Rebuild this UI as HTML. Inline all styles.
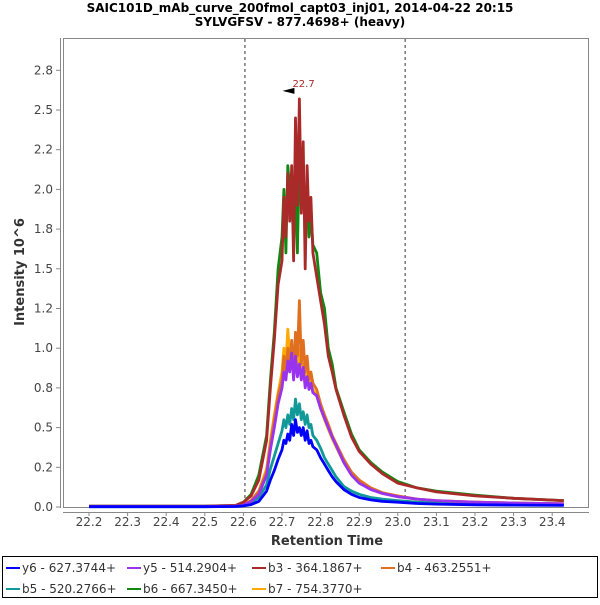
<!DOCTYPE html>
<html><head><meta charset="utf-8"><style>
body{margin:0;background:#fff;font-family:"Liberation Sans","DejaVu Sans",sans-serif;}
svg text{font-family:"DejaVu Sans","Liberation Sans",sans-serif;}
</style></head><body>
<svg id="chart" width="600" height="600" xmlns="http://www.w3.org/2000/svg">
<rect width="600" height="600" fill="#fff"/>
<text x="300" y="12" text-anchor="middle" font-size="12" font-weight="bold">SAIC101D_mAb_curve_200fmol_capt03_inj01, 2014-04-22 20:15</text>
<text x="300" y="26" text-anchor="middle" font-size="12" font-weight="bold">SYLVGFSV - 877.4698+ (heavy)</text>
<rect x="63.5" y="38.5" width="525" height="469" fill="#fff" stroke="#888"/>
<line x1="60.5" y1="38" x2="60.5" y2="508" stroke="#888"/>
<line x1="63" y1="512.5" x2="589" y2="512.5" stroke="#888"/>
<g id="yticks"></g><g id="xticks"></g>
<g id="markers"></g>
<g id="series"></g>
<g id="annot"></g>
<text x="327" y="545" text-anchor="middle" font-size="13" font-weight="bold" fill="#333">Retention Time</text>
<text transform="translate(24,272) rotate(-90)" text-anchor="middle" font-size="13" font-weight="bold" fill="#333">Intensity 10^6</text>
<rect x="2.5" y="556.5" width="595" height="41" fill="#fff" stroke="#000"/>
<g id="legend"></g>
</svg>
<script>
const times=[22.20,22.50,22.58,22.60,22.62,22.64,22.66,22.67,22.68,22.69,22.70,22.705,22.71,22.715,22.72,22.725,22.73,22.735,22.74,22.745,22.75,22.755,22.76,22.765,22.77,22.775,22.78,22.79,22.80,22.81,22.82,22.83,22.84,22.86,22.88,22.90,22.93,22.96,23.00,23.05,23.10,23.20,23.30,23.43];
const y6=[0.002,0.002,0.003,0.007,0.015,0.035,0.1,0.17,0.23,0.3,0.36,0.42,0.4,0.46,0.42,0.52,0.45,0.55,0.47,0.5,0.45,0.5,0.42,0.48,0.4,0.42,0.38,0.36,0.31,0.27,0.23,0.19,0.16,0.11,0.08,0.06,0.045,0.035,0.03,0.022,0.018,0.014,0.012,0.01];
const y5=[0.003,0.003,0.005,0.012,0.035,0.08,0.2,0.36,0.5,0.65,0.75,0.85,0.8,0.92,0.85,0.97,0.8,0.95,0.82,0.9,0.8,0.88,0.75,0.82,0.74,0.78,0.72,0.7,0.62,0.56,0.5,0.44,0.39,0.28,0.2,0.15,0.11,0.085,0.065,0.05,0.04,0.03,0.025,0.02];
const b3=[0.005,0.005,0.01,0.03,0.07,0.17,0.42,0.75,1.05,1.4,1.55,1.95,1.7,2.1,1.8,2.15,1.55,2.45,1.9,2.57,1.85,2.3,1.5,2.15,1.8,1.95,1.6,1.45,1.3,1.15,0.95,0.85,0.74,0.58,0.44,0.35,0.27,0.21,0.15,0.12,0.095,0.07,0.055,0.04];
const b4=[0.003,0.003,0.005,0.015,0.04,0.1,0.22,0.4,0.55,0.7,0.8,0.95,0.85,1.0,0.9,1.05,0.85,1.1,0.95,1.3,0.9,1.05,0.85,0.95,0.8,0.85,0.78,0.74,0.65,0.58,0.52,0.45,0.4,0.3,0.22,0.17,0.12,0.09,0.07,0.05,0.04,0.03,0.025,0.02];
const b5=[0.002,0.002,0.004,0.01,0.025,0.06,0.14,0.24,0.32,0.4,0.48,0.55,0.5,0.58,0.52,0.62,0.55,0.68,0.58,0.65,0.55,0.6,0.52,0.58,0.5,0.52,0.45,0.42,0.37,0.31,0.27,0.23,0.19,0.13,0.1,0.08,0.06,0.05,0.04,0.03,0.025,0.02,0.018,0.015];
const b6=[0.005,0.005,0.01,0.03,0.08,0.2,0.45,0.8,1.1,1.5,1.7,2.0,1.6,2.15,2.0,1.9,1.7,2.0,1.6,2.25,1.9,2.1,1.8,1.9,1.7,1.85,1.65,1.6,1.35,1.25,1.0,0.9,0.75,0.6,0.46,0.36,0.28,0.22,0.16,0.12,0.1,0.075,0.055,0.04];
const b7=[0.003,0.003,0.005,0.015,0.04,0.1,0.24,0.42,0.58,0.72,0.85,1.0,0.9,1.12,0.95,1.0,0.88,0.98,0.85,1.0,0.85,0.9,0.8,0.85,0.77,0.8,0.74,0.7,0.62,0.55,0.49,0.43,0.38,0.28,0.21,0.16,0.12,0.09,0.065,0.05,0.04,0.03,0.025,0.02];
const seriesNames=["y6 - 627.3744+","y5 - 514.2904+","b3 - 364.1867+","b4 - 463.2551+","b5 - 520.2766+","b6 - 667.3450+","b7 - 754.3770+"];
const seriesColors=["#0000ff","#9933ee","#aa2a2a","#e07020","#119999","#118811","#ffaa00"];
const yTickValues=[0,0.25,0.5,0.75,1.0,1.25,1.5,1.75,2.0,2.25,2.5,2.75];
const yTickLabels=["0.0","0.2","0.5","0.8","1.0","1.2","1.5","1.8","2.0","2.2","2.5","2.8"];
const xTickValues=[22.2,22.3,22.4,22.5,22.6,22.7,22.8,22.9,23.0,23.1,23.2,23.3,23.4];
const markerTimes=[22.604,23.019];
const peakTime=22.74, peakValue=2.57, peakLabel="22.7";

const NS="http://www.w3.org/2000/svg";
const xs=t=>89+(t-22.2)*386;
const ys=v=>507-v*158.8;
function mk(tag,attrs,parent){const e=document.createElementNS(NS,tag);for(const k in attrs)e.setAttribute(k,attrs[k]);parent.appendChild(e);return e;}

const yt=document.getElementById('yticks');
yTickValues.forEach((v,i)=>{
  const l=mk('line',{x1:56,x2:60,y1:ys(v),y2:ys(v),stroke:'#888'},yt);
  
  
  const t=mk('text',{x:53,y:ys(v)+4,'text-anchor':'end','font-size':12,fill:'#444'},yt);
  
  
  t.textContent=yTickLabels[i];
});
const xt=document.getElementById('xticks');
xTickValues.forEach(v=>{
  const l=mk('line',{x1:xs(v),x2:xs(v),y1:512,y2:516,stroke:'#888'},xt);
  
  
  const t=mk('text',{x:xs(v),y:526,'text-anchor':'middle','font-size':12,fill:'#444'},xt);
  
  
  t.textContent=v.toFixed(1);
});
const mg=document.getElementById('markers');
markerTimes.forEach(m=>{
  const l=mk('line',{x1:xs(m),x2:xs(m),y1:39,y2:507,stroke:'#333','stroke-dasharray':'3,3'},mg);
  
  
});
const data=[y6,y5,b3,b4,b5,b6,b7];
const sg=document.getElementById('series');
[6,5,4,3,2,1,0].forEach(i=>{
  const d=data[i].map((v,j)=>(j?'L':'M')+xs(times[j]).toFixed(1)+','+ys(v).toFixed(1)).join('');
  const p=mk('path',{d:d,fill:'none',stroke:seriesColors[i],'stroke-width':2.8,'stroke-linejoin':'round'},sg);
  
  
});
const ag=document.getElementById('annot');
const px=xs(peakTime), py=ys(peakValue);
const ar=mk('polygon',{points:`${px-15},${py-8} ${px-3},${py-11} ${px-3},${py-5}`,fill:'#000'},ag);


const at=mk('text',{x:px-5,y:py-12,'font-size':10,fill:'#aa2a2a'},ag);


at.textContent=peakLabel;

const lg=document.getElementById('legend');
const lx=[6,127,252,381,6,127,252], ly=[568,568,568,568,589,589,589];
seriesNames.forEach((n,i)=>{
  const l=mk('line',{x1:lx[i],x2:lx[i]+14,y1:ly[i],y2:ly[i],stroke:seriesColors[i],'stroke-width':2},lg);
  
  
  const t=mk('text',{x:lx[i]+16,y:ly[i]+4,'font-size':12,fill:'#333'},lg);
  
  
  t.textContent=n;
});
</script>
</body></html>
